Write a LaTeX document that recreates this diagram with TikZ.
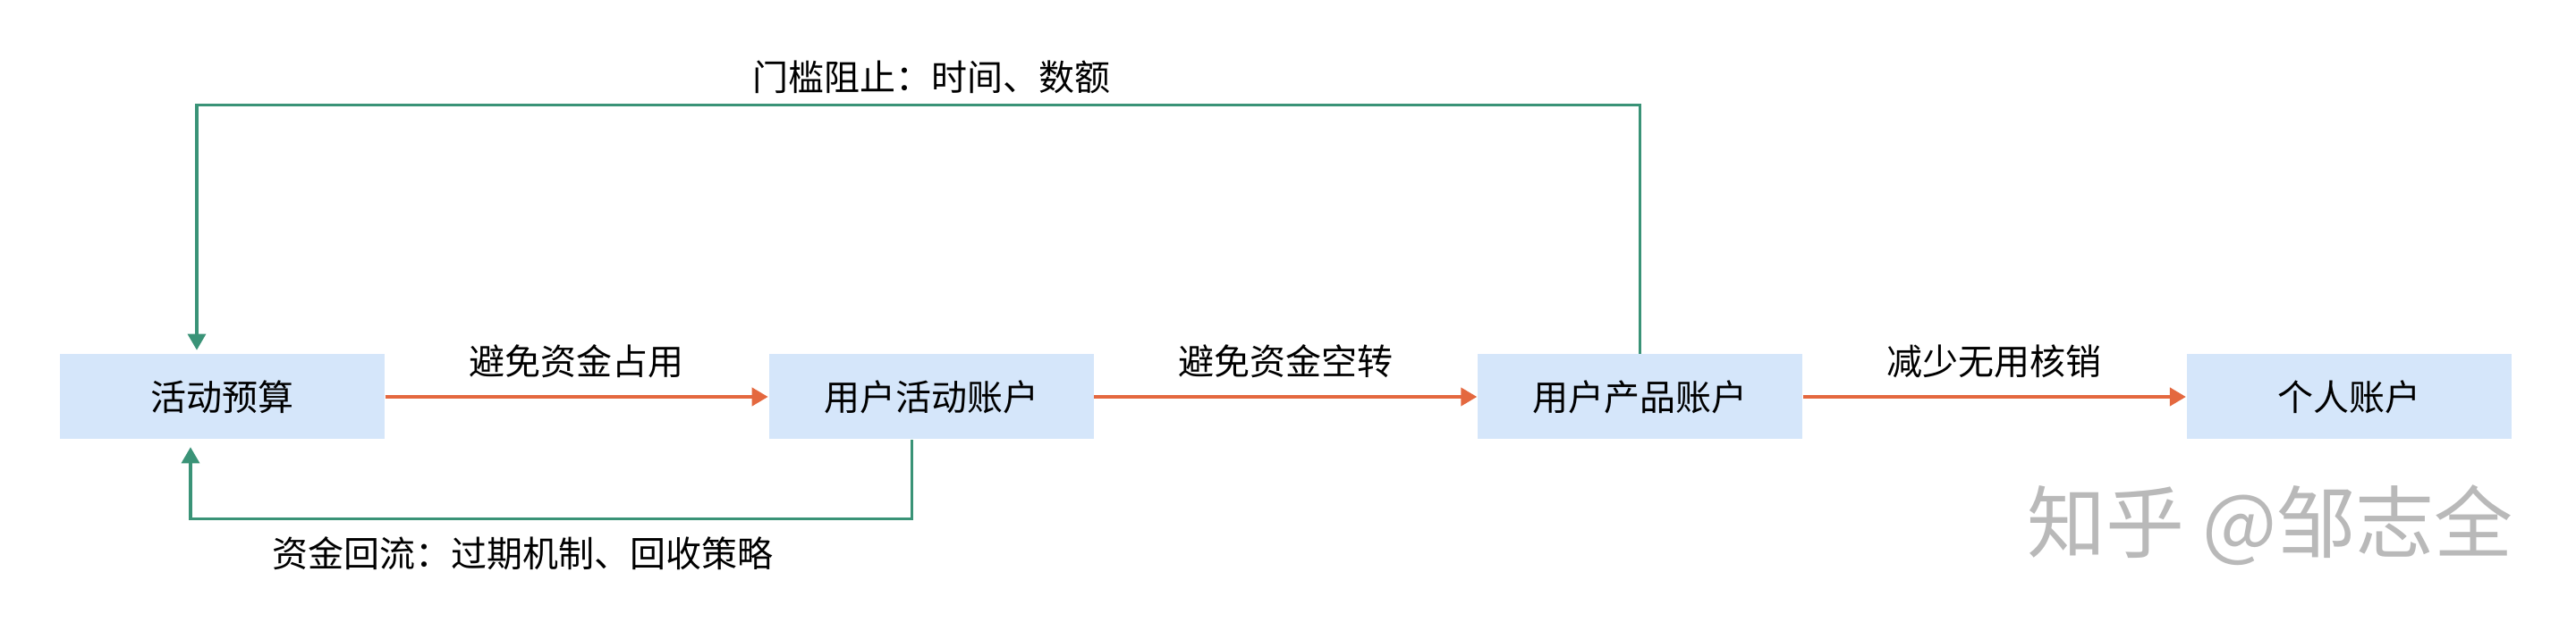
\documentclass[tikz,border=0pt]{standalone}
\usepackage{fontspec}
\setmainfont{Noto Sans CJK SC}
\usetikzlibrary{positioning,arrows.meta}
\definecolor{boxblue}{HTML}{D5E6FA}
\definecolor{flowred}{HTML}{E4683F}
\definecolor{loopgreen}{HTML}{3A9377}
\pgfmathsetmacro{\boxgap}{107}
\pgfmathsetmacro{\boxwidth}{90.75}
\pgfmathsetmacro{\boxheight}{23.75}
\tikzset{
  account/.style={fill=boxblue, minimum width=\boxwidth pt, minimum height=\boxheight pt,
    inner sep=0pt, font=\fontsize{10}{12}\selectfont},
  flowtext/.style={inner sep=0pt, font=\fontsize{10}{12}\selectfont},
  flow/.style={draw=flowred, line width=1pt, -{Triangle[width=5pt,length=4.5pt]}},
  back/.style={draw=loopgreen, line width=0.8pt, -{Triangle[width=5pt,length=4.5pt]}},
}

\begin{document}
\begin{tikzpicture}
    \fill[white] (0,0) rectangle (720pt,176.5pt);
    \useasboundingbox (0,0) rectangle (720pt,176.5pt);
    % define accounts
    \node[account] (act_budget) at (62.1pt, 65.5pt) {活动预算};
    \node[account, right=\boxgap pt of act_budget] (user_act_acc) {用户活动账户};
    \node[account, right=\boxgap pt of user_act_acc] (user_prod_acc) {用户产品账户};
    \node[account, right=\boxgap pt of user_prod_acc] (personal_acc) {个人账户};
    % forward flow
    \draw[flow] (act_budget) -- node[flowtext, midway, yshift=10pt] {避免资金占用} (user_act_acc);
    \draw[flow] (user_act_acc) -- node[flowtext, midway, yshift=10pt] {避免资金空转} (user_prod_acc);
    \draw[flow] (user_prod_acc) -- node[flowtext, midway, yshift=10pt] {减少无用核销} (personal_acc);
    % threshold loop (top)
    \coordinate[above=69.6pt of user_prod_acc.north] (gate_right);
    \draw[back, shorten >=1pt] (user_prod_acc.north) -- (gate_right)
        -| ([xshift=-7.1pt]act_budget.north);
    \path (gate_right -| user_act_acc) node[flowtext, yshift=7.75pt] (gate_text) {门槛阻止：时间、数额};
    % return loop (bottom)
    \coordinate[below=22.1pt of user_act_acc.south, xshift=-5.4pt] (return_right);
    \draw[back, shorten >=2pt] ([xshift=-5.4pt]user_act_acc.south) -- (return_right)
        -| ([xshift=-8.85pt]act_budget.south);
    \node[flowtext] (return_text) at (146pt, 21.75pt) {资金回流：过期机制、回收策略};
    % watermark
    \node[text=gray!55, inner sep=0pt, font=\fontsize{22}{26}\selectfont] (watermark)
        at (634.5pt, 29.5pt) {知乎 @邹志全};
\end{tikzpicture}
\end{document}
